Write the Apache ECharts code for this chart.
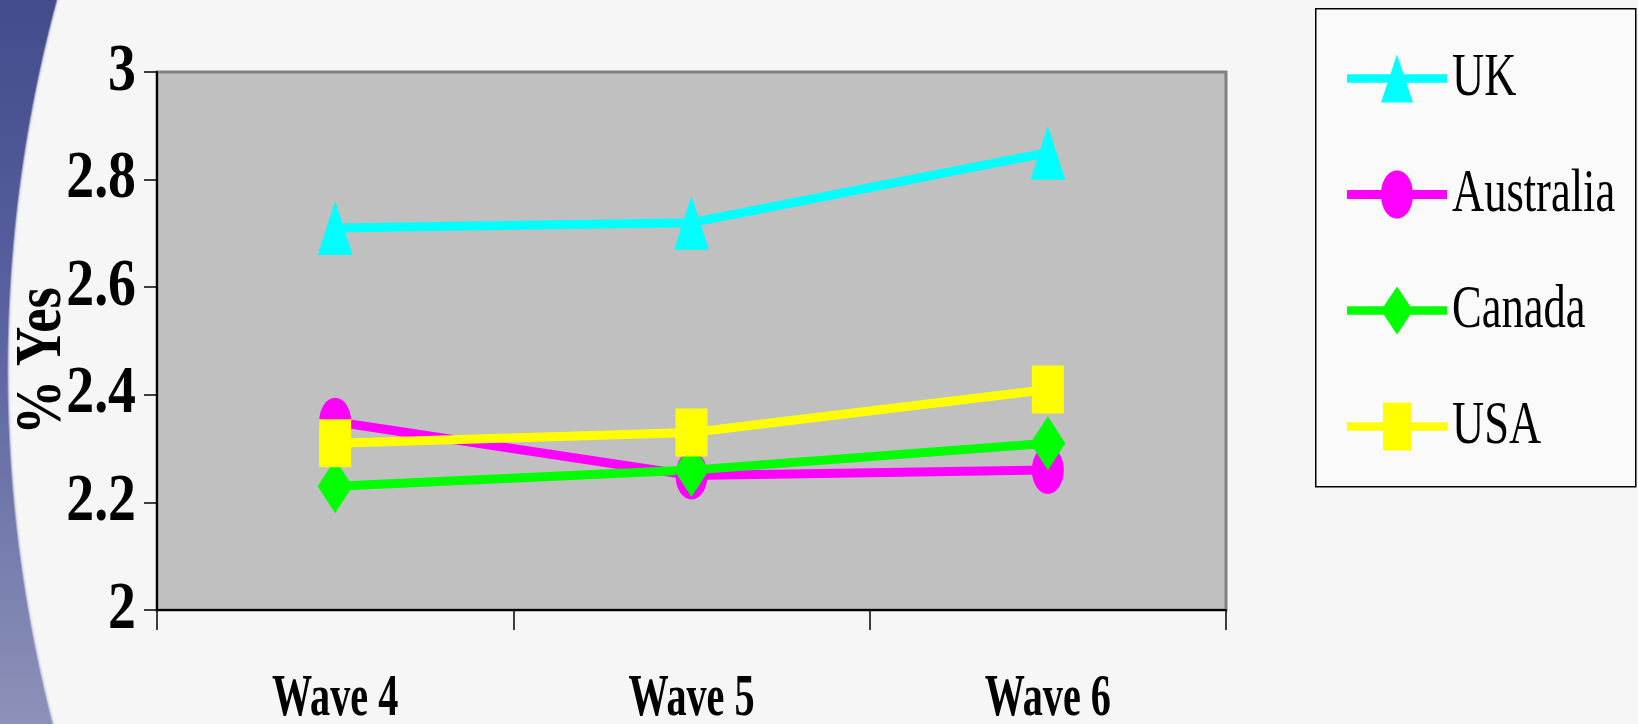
<!DOCTYPE html>
<html>
<head>
<meta charset="utf-8">
<script src="https://cdn.jsdelivr.net/npm/echarts@6/dist/echarts.min.js"></script>
<style>
  html, body { margin: 0; padding: 0; }
  body {
    width: 1638px; height: 724px; overflow: hidden;
    background:
      radial-gradient(circle 1421px at 1429px 370px, #f6f6f6 1418px, #dfe0ea 1420px, transparent 1422px),
      linear-gradient(180deg, #434c8c 0%, #5a62a0 45%, #8d92b8 100%);
  }
  #chart { width: 1638px; height: 724px; }
</style>
</head>
<body>
<div id="chart"></div>
<script>
// Survey waves on the category axis
const waves = ['Wave 4', 'Wave 5', 'Wave 6'];

// Share answering "yes", by country and wave
const uk        = [2.71, 2.72, 2.85];
const australia = [2.35, 2.25, 2.26];
const canada    = [2.23, 2.26, 2.31];
const usa       = [2.31, 2.33, 2.41];

const countries = ['UK', 'Australia', 'Canada', 'USA'];
const yTicks = { min: 2, max: 3, step: 0.2 };
const yTitle = '% Yes';

const colors = { UK: '#00ffff', Australia: '#ff00ff', Canada: '#00ff00', USA: '#ffff00' };
const markers = {
  UK:        { symbol: 'triangle', size: [35, 54] },
  Australia: { symbol: 'circle',   size: [32, 48] },
  Canada:    { symbol: 'diamond',  size: [35, 54] },
  USA:       { symbol: 'rect',     size: [32, 48] }
};
// legend icons: a thick stroke with the series marker on top
const legendIcons = {
  UK:        'path://M0,21L100,21L100,29L0,29Z M50,2L66,48L34,48Z',
  Australia: 'path://M0,21L100,21L100,29L0,29Z M50,4 C59,4 66,13 66,25 C66,37 59,46 50,46 C41,46 34,37 34,25 C34,13 41,4 50,4Z',
  Canada:    'path://M0,21L100,21L100,29L0,29Z M50,2L66,25L50,48L34,25Z',
  USA:       'path://M0,21L100,21L100,29L0,29Z M36,3L64,3L64,47L36,47Z'
};
const values = { UK: uk, Australia: australia, Canada: canada, USA: usa };

const serif = '"Liberation Serif", "Times New Roman", serif';

const chart = echarts.init(document.getElementById('chart'), null, { renderer: 'canvas' });

chart.setOption({
  backgroundColor: 'transparent',
  animation: false,
  // frame behind the legend entries
  graphic: [{
    type: 'rect',
    left: 1315, top: 8, z: 0, silent: true,
    shape: { width: 320, height: 478 },
    style: { fill: '#fafafa', stroke: '#000', lineWidth: 1.5 }
  }],
  grid: {
    left: 157, top: 72, right: 412, bottom: 114,
    outerBoundsMode: 'none',
    containLabel: false,
    show: true,
    backgroundColor: '#c0c0c0',
    borderColor: '#808080',
    borderWidth: 3
  },
  legend: {
    orient: 'vertical',
    left: 1315, top: 8,
    padding: [40, 0, 0, 32],
    itemGap: 55,
    itemWidth: 100,
    itemHeight: 48,
    symbolKeepAspect: false,
    z: 5,
    textStyle: { fontFamily: serif, fontSize: 61, color: '#000' },
    data: countries.map(name => ({ name, icon: legendIcons[name] }))
  },
  xAxis: {
    type: 'category',
    data: waves,
    boundaryGap: true,
    axisLine: { lineStyle: { color: '#000', width: 2 } },
    axisTick: { show: true, alignWithLabel: false, length: 20, lineStyle: { color: '#000', width: 1.5 } },
    axisLabel: { fontFamily: serif, fontWeight: 'bold', fontSize: 60, color: '#000', margin: 59 },
    splitLine: { show: false }
  },
  yAxis: {
    type: 'value',
    min: yTicks.min, max: yTicks.max, interval: yTicks.step,
    name: yTitle,
    nameLocation: 'middle',
    nameRotate: 90,
    nameGap: 81,
    nameMoveOverlap: false,
    nameTextStyle: { fontFamily: serif, fontWeight: 'bold', fontSize: 66, color: '#000', padding: [0, 0, 0, -48] },
    axisLine: { show: true, lineStyle: { color: '#000', width: 2 } },
    axisTick: { show: true, length: 13, lineStyle: { color: '#000', width: 1.5 } },
    axisLabel: { fontFamily: serif, fontWeight: 'bold', fontSize: 68, color: '#000', margin: 21 },
    splitLine: { show: false }
  },
  series: countries.map(name => ({
    name,
    type: 'line',
    data: values[name],
    symbol: markers[name].symbol,
    symbolSize: markers[name].size,
    showAllSymbol: true,
    lineStyle: { color: colors[name], width: 9 },
    itemStyle: { color: colors[name], borderWidth: 0 },
    emphasis: { disabled: true }
  }))
});

// Narrow the lettering: each text is squeezed along its own reading direction,
// around its anchor point.
const narrow = new Map();
waves.forEach(t => narrow.set(t, 0.67));
countries.forEach(t => narrow.set(t, 0.73));
narrow.set(yTitle, 0.83);
for (let v = yTicks.min; v <= yTicks.max + 1e-9; v += yTicks.step) {
  narrow.set(String(+v.toFixed(1)), 0.82);
}

function condenseText() {
  const zr = chart.getZr();
  const visit = el => {
    if (el.type === 'text' && el.style && narrow.has(el.style.text)) {
      const k = narrow.get(el.style.text);
      if (el.scaleX !== k) {
        el.scaleX = k;
        el.originX = el.style.x || 0;
        el.originY = el.style.y || 0;
        el.markRedraw();
      }
    }
    if (el.isGroup) el.eachChild(visit);
  };
  zr.storage.getRoots().forEach(visit);
  zr.refreshImmediately();
}
condenseText();
requestAnimationFrame(condenseText);
</script>
</body>
</html>
